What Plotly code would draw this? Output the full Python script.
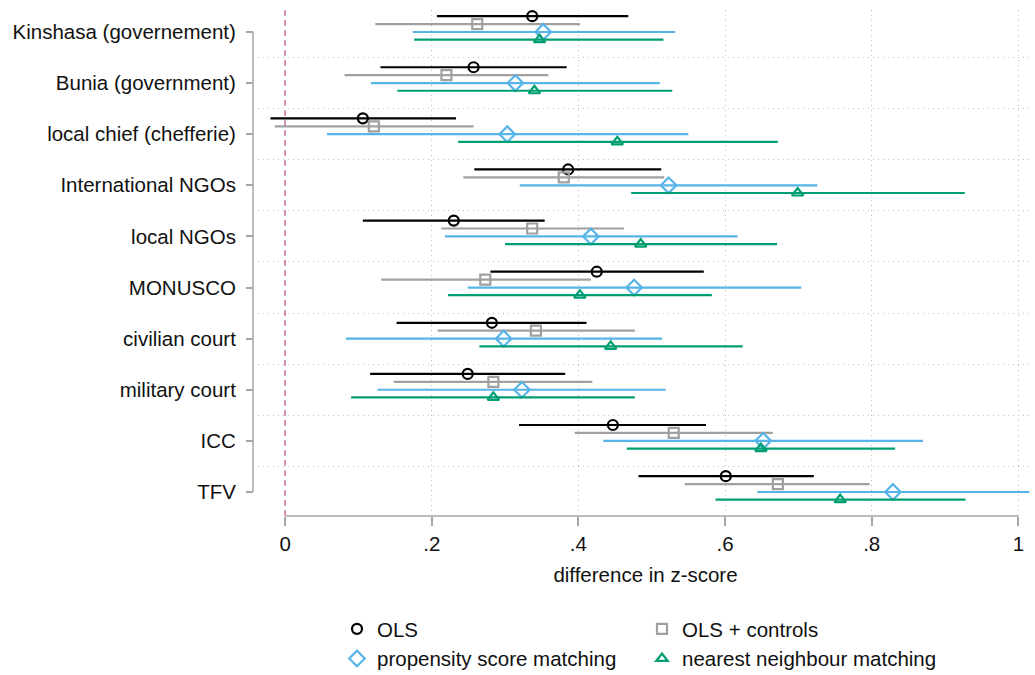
import plotly.graph_objects as go
import numpy as np

categories = ["Kinshasa (governement)", "Bunia (government)", "local chief (chefferie)",
              "International NGOs", "local NGOs", "MONUSCO", "civilian court",
              "military court", "ICC", "TFV"]

ols_pt = [0.337, 0.257, 0.106, 0.386, 0.230, 0.425, 0.282, 0.249, 0.447, 0.601]
ols_lo = [0.207, 0.130, -0.020, 0.258, 0.106, 0.280, 0.152, 0.116, 0.319, 0.482]
ols_hi = [0.468, 0.384, 0.233, 0.513, 0.354, 0.571, 0.411, 0.382, 0.574, 0.721]

ctl_pt = [0.262, 0.220, 0.121, 0.380, 0.337, 0.273, 0.342, 0.284, 0.530, 0.672]
ctl_lo = [0.123, 0.081, -0.014, 0.243, 0.213, 0.131, 0.208, 0.148, 0.395, 0.545]
ctl_hi = [0.402, 0.359, 0.257, 0.517, 0.462, 0.417, 0.477, 0.419, 0.665, 0.797]

psm_pt = [0.352, 0.314, 0.303, 0.523, 0.417, 0.476, 0.298, 0.323, 0.652, 0.829]
psm_lo = [0.174, 0.117, 0.057, 0.320, 0.218, 0.249, 0.083, 0.126, 0.434, 0.644]
psm_hi = [0.532, 0.511, 0.550, 0.726, 0.617, 0.704, 0.514, 0.519, 0.870, 1.015]

nn_pt = [0.347, 0.340, 0.453, 0.699, 0.485, 0.402, 0.444, 0.284, 0.649, 0.757]
nn_lo = [0.176, 0.153, 0.236, 0.472, 0.300, 0.222, 0.265, 0.090, 0.466, 0.587]
nn_hi = [0.516, 0.528, 0.672, 0.927, 0.671, 0.582, 0.624, 0.477, 0.832, 0.928]

x_tickvals = [0, 0.2, 0.4, 0.6, 0.8, 1.0]
x_ticktext = ["0", ".2", ".4", ".6", ".8", "1"]

FONT = "Liberation Sans, Arial, sans-serif"
FS = 20.5
AXC = "#a6a6a6"
GRIDC = "#bdbdbd"

series = [
    ("OLS", ols_pt, ols_lo, ols_hi, "#000000", "circle-open", 10, -0.31, "legend"),
    ("OLS + controls", ctl_pt, ctl_lo, ctl_hi, "#a0a0a0", "square-open", 10, -0.155, "legend2"),
    ("propensity score matching", psm_pt, psm_lo, psm_hi, "#56B4E9", "diamond-open", 12, 0.0, "legend"),
    ("nearest neighbour matching", nn_pt, nn_lo, nn_hi, "#009E73", "triangle-up-open", 10, 0.15, "legend2"),
]

fig = go.Figure()
idx = np.arange(len(categories))
for name, pt, lo, hi, col, sym, size, off, lg in series:
    pt = np.array(pt); lo = np.array(lo); hi = np.array(hi)
    fig.add_trace(go.Scatter(
        x=pt, y=idx + off, mode="markers", name=name, legend=lg,
        marker=dict(symbol=sym, size=size, color=col, line=dict(width=2.2, color=col)),
        error_x=dict(type="data", symmetric=False, array=hi - pt, arrayminus=pt - lo,
                     color=col, thickness=2.2, width=0),
        cliponaxis=False,
    ))

L, R, T, B = 253, 2, 10, 159
W, H = 1035, 675
pw = W - L - R

fig.update_layout(
    width=W, height=H,
    margin=dict(l=L, r=R, t=T, b=B, pad=0, autoexpand=False),
    paper_bgcolor="white", plot_bgcolor="white",
    font=dict(family=FONT, size=FS, color="#111111"),
    showlegend=True,
    legend=dict(x=(337 - L) / pw, y=1 - 609 / H, yref="container", xanchor="left", yanchor="top",
                font=dict(size=FS), tracegroupgap=0, bgcolor="rgba(0,0,0,0)"),
    legend2=dict(x=(642 - L) / pw, y=1 - 609 / H, yref="container", xanchor="left", yanchor="top",
                 font=dict(size=FS), tracegroupgap=0, bgcolor="rgba(0,0,0,0)"),
    xaxis=dict(
        domain=[5 / pw, 1], range=[-0.037, 1.020],
        tickvals=x_tickvals, ticktext=x_ticktext,
        ticks="outside", ticklen=9, tickwidth=1.5, tickcolor=AXC,
        showline=False, zeroline=False,
        showgrid=True, gridcolor=GRIDC, griddash="1px,4px", gridwidth=1.2,
        title=dict(text="difference in z-score", font=dict(size=FS), standoff=14),
        tickfont=dict(size=FS),
        automargin=False,
    ),
    yaxis=dict(
        anchor="free", position=0,
        range=[9.47, -0.43],
        tickvals=list(idx), ticktext=categories,
        ticks="outside", ticklen=7, tickwidth=1.5, tickcolor=AXC,
        ticklabelstandoff=6,
        showline=False, zeroline=False, showgrid=False,
        minor=dict(tickvals=[i + 0.5 for i in range(len(categories) - 1)],
                   showgrid=True, gridcolor=GRIDC, griddash="1px,4px", gridwidth=1.2, ticks=""),
        tickfont=dict(size=FS),
        automargin=False,
    ),
)

# y axis line spanning first to last category (Stata-style)
fig.add_shape(type="line", xref="paper", yref="y", x0=0, x1=0, y0=idx[0], y1=idx[-1],
              line=dict(color=AXC, width=1.5), layer="above")
# x axis line spanning first to last tick
fig.add_shape(type="line", xref="x", yref="paper", x0=x_tickvals[0], x1=x_tickvals[-1], y0=0, y1=0,
              line=dict(color=AXC, width=1.5), layer="above")
# reference line at zero
fig.add_shape(type="line", xref="x", yref="paper", x0=0, x1=0, y0=0, y1=1,
              line=dict(color="#d87fb4", width=1.8, dash="6px,4px"), layer="below")

fig.write_html("out.html")
